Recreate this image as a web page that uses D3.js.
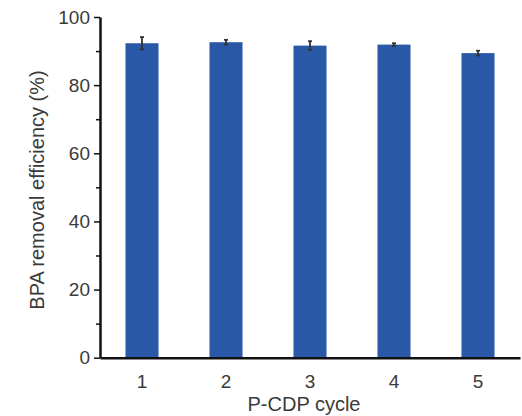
<!DOCTYPE html>
<html>
<head>
<meta charset="utf-8">
<script src="https://cdn.jsdelivr.net/npm/d3@7"></script>
<style>
html,body{margin:0;padding:0;background:#fff;}
svg{display:block;}
text{font-family:"Liberation Sans",Arial,Helvetica,sans-serif;fill:#3a3a3a;}
</style>
</head>
<body>
<svg id="chart" width="522" height="416"></svg>
<script>
const categories = ["1","2","3","4","5"];
const values = [92.3, 92.6, 91.6, 91.9, 89.4];
const errors = [1.8, 0.7, 1.3, 0.4, 0.7];
const majorTicks = [0,20,40,60,80,100];
const minorTicks = [10,30,50,70,90];
const xTitle = "P-CDP cycle";
const yTitle = "BPA removal efficiency (%)";

const svg = d3.select("#chart");
const mLeft = 100, mRight = 520, mTop = 17, mBottom = 357.7;

const x = d3.scaleBand().domain(categories).range([mLeft, mRight])
  .paddingInner(0.607).paddingOuter(0.3035);
const y = d3.scaleLinear().domain([0,100]).range([mBottom, mTop]);

// bars
svg.append("g").selectAll("rect").data(values).join("rect")
  .attr("x", (d,i)=>x(categories[i]))
  .attr("width", x.bandwidth())
  .attr("y", d=>y(d))
  .attr("height", d=>y(0)-y(d))
  .attr("fill", "#2958a6");

// error bars
const eg = svg.append("g").attr("stroke","#333").attr("stroke-width",1.8);
values.forEach((v,i)=>{
  const cx = x(categories[i]) + x.bandwidth()/2;
  eg.append("line").attr("x1",cx).attr("x2",cx).attr("y1",y(v+errors[i])).attr("y2",y(v-errors[i]));
  eg.append("line").attr("x1",cx-2).attr("x2",cx+2).attr("y1",y(v+errors[i])).attr("y2",y(v+errors[i]));
  eg.append("line").attr("x1",cx-2).attr("x2",cx+2).attr("y1",y(v-errors[i])).attr("y2",y(v-errors[i]));
});

// y axis
const yAxis = svg.append("g").attr("transform",`translate(${mLeft},0)`)
  .call(d3.axisLeft(y).tickValues(majorTicks).tickSize(6).tickPadding(4).tickSizeOuter(0));
yAxis.select(".domain").attr("stroke","#111").attr("stroke-width",2.5);
yAxis.selectAll(".tick line").attr("stroke","#111").attr("stroke-width",1.5);
yAxis.selectAll("text").style("font-size","19px").style("fill","#3a3a3a");
svg.append("g").attr("transform",`translate(${mLeft},0)`)
  .call(d3.axisLeft(y).tickValues(minorTicks).tickSize(4).tickFormat(""))
  .call(g=>g.select(".domain").remove())
  .selectAll(".tick line").attr("stroke","#111").attr("stroke-width",1.5);

// x axis
const xAxis = svg.append("g").attr("transform",`translate(0,${mBottom})`)
  .call(d3.axisBottom(x).tickSize(0).tickPadding(17).tickSizeOuter(0));
xAxis.select(".domain").attr("stroke","#111").attr("stroke-width",2.5);
xAxis.selectAll("text").style("font-size","19px").style("fill","#3a3a3a");

// titles
svg.append("text").attr("x", 304).attr("y", 411).attr("text-anchor","middle")
  .style("font-size","20px").text(xTitle);
svg.append("text").attr("transform","translate(44,190) rotate(-90)").attr("text-anchor","middle")
  .style("font-size","20px").text(yTitle);
</script>
</body>
</html>
